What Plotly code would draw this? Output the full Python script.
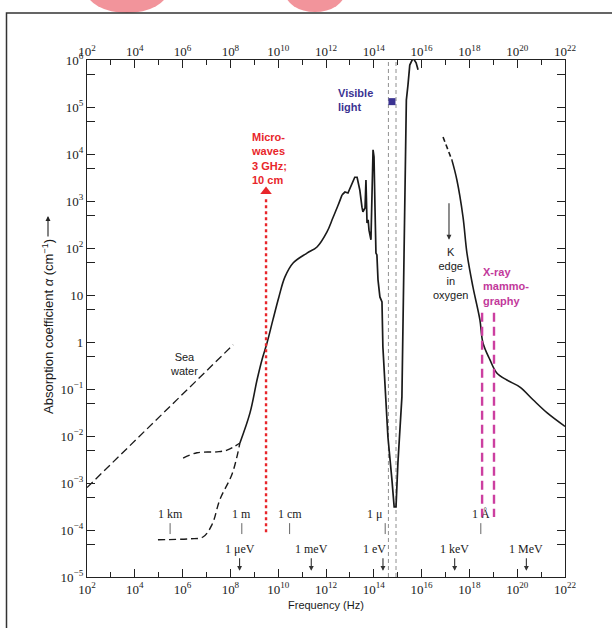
import numpy as np
import plotly.graph_objects as go

# ---------------- data (frequency in Hz, absorption coefficient in cm^-1) ----------------
smooth_f = [2.5e8, 6.6e8, 1.3e9, 2.1e9, 3.4e9, 6.0e9, 1.07e10, 1.9e10, 4.2e10, 1.6e11, 4.2e11,
            1.1e12, 1.95e12, 3.2e12, 4.7e12]
smooth_a = [7.1e-3, 3.1e-2, 0.155, 0.42, 0.95, 2.95, 9.1, 24, 48, 78, 105,
            220, 440, 810, 1350]

ir_uv_f = [4.7e12, 6.2e12, 8.3e12, 1.23e13, 1.6e13, 2.0e13, 2.6e13, 3.2e13, 3.5e13, 4.3e13,
           4.7e13, 5.2e13, 5.8e13, 6.3e13, 7.6e13, 9.3e13, 1.02e14, 1.12e14, 1.23e14, 1.35e14,
           1.5e14, 1.8e14, 2.2e14, 2.4e14, 2.95e14, 3.9e14, 5.75e14, 6.3e14, 7.1e14, 8.5e14,
           1.02e15, 1.5e15, 1.66e15, 1.8e15, 2.0e15, 2.1e15, 2.3e15, 2.7e15, 3.2e15, 4.4e15,
           5.9e15, 7.1e15]
ir_uv_a = [1350, 1550, 1480, 2400, 3200, 3200, 1700, 740, 590, 710,
           2800, 340, 400, 240, 150, 12300, 8700, 740, 78, 71,
           21, 9.1, 7.1, 0.78, 0.11, 9.5e-3, 1.15e-3, 5e-4, 3.1e-4, 3.1e-4,
           2.7e-3, 6.8e-2, 1.8, 48, 1050, 3.2e4, 1.4e5, 3.0e5, 7.8e5, 1.1e6,
           8.7e5, 6.2e5]

upper_dash_f = [1.05e6, 4.0e6, 2.75e7, 7.2e7, 2.5e8]
upper_dash_a = [3.4e-3, 4.4e-3, 4.6e-3, 5.0e-3, 7.1e-3]

lower_dash_f = [9.3e4, 2.0e6, 7.1e6, 1.7e7, 3.6e7, 1.2e8, 2.5e8]
lower_dash_a = [6.2e-5, 6.5e-5, 7.1e-5, 1.3e-4, 4.4e-4, 1.6e-3, 7.1e-3]

sea_f = [1e2, 1.3e8]
sea_a = [8e-4, 0.87]

xray_dash_f = [7.9e16, 1.86e17]
xray_dash_a = [2.3e4, 7.4e3]
xray_f = [1.86e17, 3.0e17, 5.4e17, 7.9e17, 1.4e18, 2.75e18, 3.7e18, 7.2e18, 1.4e19, 3.7e19,
          1.3e20, 4.6e20, 1.8e21, 1e22]
xray_a = [7.4e3, 2.8e3, 460, 78, 15, 2.95, 0.95, 0.42, 0.22, 0.155,
          0.11, 0.059, 0.031, 0.016]

visible_edges_f = [4.1e14, 8.5e14]
visible_f, visible_a = 5.75e14, 1.3e5
microwave_f = 3.1e9
microwave_a = [9e-5, 1.25e3]
mammo_f = [3.4e18, 1.07e19]
mammo_a = [4.2, 1.9e-4]
kedge_f, kedge_a = 1.4e17, 150

wave_labels = ["1 km", "1 m", "1 cm", "1 \u03bc", "1 \u00c5"]
wave_f = [3e5, 3e8, 3e10, 3e14, 3e18]
energy_labels = ["1 \u03bceV", "1 meV", "1 eV", "1 keV", "1 MeV"]
energy_f = [2.42e8, 2.42e11, 2.42e14, 2.42e17, 2.42e20]

x_major = [1e2, 1e4, 1e6, 1e8, 1e10, 1e12, 1e14, 1e16, 1e18, 1e20, 1e22]
x_major_text = ["10<sup>2</sup>", "10<sup>4</sup>", "10<sup>6</sup>", "10<sup>8</sup>",
                "10<sup>10</sup>", "10<sup>12</sup>", "10<sup>14</sup>", "10<sup>16</sup>",
                "10<sup>18</sup>", "10<sup>20</sup>", "10<sup>22</sup>"]
x_minor = [1e3, 1e5, 1e7, 1e9, 1e11, 1e13, 1e15, 1e17, 1e19, 1e21]
y_major = [1e6, 1e5, 1e4, 1e3, 1e2, 1e1, 1e0, 1e-1, 1e-2, 1e-3, 1e-4, 1e-5]
y_major_text = ["10<sup>6</sup>", "10<sup>5</sup>", "10<sup>4</sup>", "10<sup>3</sup>",
                "10<sup>2</sup>", "10", "1", "10<sup>\u22121</sup>", "10<sup>\u22122</sup>",
                "10<sup>\u22123</sup>", "10<sup>\u22124</sup>", "10<sup>\u22125</sup>"]
y_minor = [5e5, 5e4, 5e3, 5e2, 5e1, 5e0, 5e-1, 5e-2, 5e-3, 5e-4, 5e-5]

# ---------------- figure ----------------
W, H = 612, 628
L, R, T, B = 87, 565, 60, 577   # plot area in page pixels
SERIF = "Liberation Serif, Times New Roman, serif"
SANS = "Liberation Sans, Arial, sans-serif"
INK = "#1a1a1a"

def px(x):
    return (x - L) / (R - L)

def py(y):
    return (B - y) / (B - T)

fig = go.Figure()

def line(xs, ys, color=INK, width=1.6, dash="solid", shape="linear", xaxis="x"):
    fig.add_trace(go.Scatter(x=xs, y=ys, mode="lines", xaxis=xaxis,
                             line=dict(color=color, width=width, dash=dash, shape=shape),
                             hoverinfo="skip", showlegend=False))

# visible light boundaries
for f in visible_edges_f:
    line([f, f], [1e-5, 1e6], color="#9a9a9a", width=1.1, dash="4px,3px")

line(sea_f, sea_a, dash="8px,4px", width=1.3)
line(upper_dash_f, upper_dash_a, dash="7px,4px", width=1.4, shape="spline")
line(lower_dash_f, lower_dash_a, dash="7px,4px", width=1.4, shape="spline")
line(smooth_f, smooth_a, shape="spline")
line(ir_uv_f, ir_uv_a, width=1.7)
line(xray_dash_f, xray_dash_a, dash="5px,3px", width=1.6)
line(xray_f, xray_a, shape="spline")

# microwave marker
line([microwave_f, microwave_f], microwave_a, color="#e8262b", width=2.4, dash="dot")
fig.add_trace(go.Scatter(x=[microwave_f], y=[1.6e3], mode="markers",
                         marker=dict(symbol="triangle-up", size=10, color="#e8262b"),
                         hoverinfo="skip", showlegend=False))
# x-ray mammography
for f in mammo_f:
    line([f, f], mammo_a, color="#cc3fa0", width=2.4, dash="9px,5px")
# visible marker
fig.add_trace(go.Scatter(x=[visible_f], y=[visible_a], mode="markers",
                         marker=dict(symbol="square", size=7, color="#3b3392"),
                         hoverinfo="skip", showlegend=False))
# wavelength tick segments
for f in wave_f:
    line([f, f], [1.4e-4, 8.2e-5], color="#666666", width=1.0)

# dummy trace for the top axis
fig.add_trace(go.Scatter(x=[1e2, 1e22], y=[1e-5, 1e-5], xaxis="x2", mode="markers",
                         marker=dict(opacity=0), hoverinfo="skip", showlegend=False))

ann = []
def text(xv, yv, t, size=11, color=INK, family=SANS, xanchor="center", bold=False, align="center"):
    if bold:
        t = "<b>" + t + "</b>"
    ann.append(dict(x=np.log10(xv), y=np.log10(yv), xref="x", yref="y", text=t,
                    showarrow=False, xanchor=xanchor, yanchor="middle", align=align,
                    font=dict(size=size, color=color, family=family)))

text(1.15e6, 0.34, "Sea<br>water", size=11)
text(6.0e8, 8.0e3, "Micro-<br>waves<br>3 GHz;<br>10 cm", color="#e8262b", xanchor="left",
     bold=True, align="left", size=11)
text(2.6e12, 1.4e5, "Visible<br>light", color="#3b3392", xanchor="left", bold=True,
     align="left", size=11)
text(1.55e17, 28, "K<br>edge<br>in<br>oxygen", size=11)
text(3.1e18, 15, "X-ray<br>mammo-<br>graphy", color="#c2399b", xanchor="left", bold=True,
     align="left", size=11)

for lab, f in zip(wave_labels, wave_f):
    if lab.startswith("1 \u03bc"):
        ann.append(dict(x=np.log10(f), y=np.log10(2.2e-4), xref="x", yref="y", text=lab,
                        showarrow=False, xanchor="right", xshift=-1,
                        font=dict(size=12, color=INK, family=SERIF)))
    else:
        text(f, 2.2e-4, lab, size=12, family=SERIF)

for lab, f in zip(energy_labels, energy_f):
    shift = -8 if lab == "1 eV" else 0
    ann.append(dict(x=np.log10(f), y=np.log10(4.0e-5), xref="x", yref="y", text=lab,
                    showarrow=False, xshift=shift,
                    font=dict(size=12, color=INK, family=SERIF)))
    ann.append(dict(x=np.log10(f), y=np.log10(1.35e-5), xref="x", yref="y", text="",
                    showarrow=True, ax=0, ay=-14, arrowhead=2, arrowsize=0.9,
                    arrowwidth=1.1, arrowcolor="#333333"))

# K edge arrow
ann.append(dict(x=np.log10(kedge_f), y=np.log10(kedge_a), xref="x", yref="y", text="",
                showarrow=True, ax=0, ay=-38, arrowhead=2, arrowsize=0.9, arrowwidth=1.1,
                arrowcolor="#333333"))

# axis titles
ann.append(dict(x=px(326), y=py(605), xref="paper", yref="paper", text="Frequency (Hz)",
                xanchor="center", yanchor="middle",
                showarrow=False, font=dict(size=11, color=INK, family=SANS)))
ann.append(dict(x=px(48), y=py(327), xref="paper", yref="paper", textangle=-90,
                xanchor="center", yanchor="middle",
                text="Absorption coefficient <i>\u03b1</i> (cm<sup>\u22121</sup>)",
                showarrow=False, font=dict(size=13, color=INK, family=SANS)))
ann.append(dict(x=px(48), y=py(216), xref="paper", yref="paper", text="", showarrow=True,
                ax=0, ay=22, arrowhead=2, arrowsize=0.9, arrowwidth=1.1, arrowcolor="#222222"))

shapes = [
    dict(type="circle", xref="paper", yref="paper", x0=px(86), x1=px(168), y0=py(-33),
         y1=py(13), fillcolor="rgba(238,112,122,0.75)", line=dict(width=0), layer="above"),
    dict(type="circle", xref="paper", yref="paper", x0=px(285), x1=px(345), y0=py(-28),
         y1=py(12), fillcolor="rgba(238,112,122,0.75)", line=dict(width=0), layer="above"),
    dict(type="rect", xref="paper", yref="paper", x0=px(6.5), x1=px(700), y0=py(13),
         y1=py(700), line=dict(color="#333333", width=1.5), fillcolor="rgba(0,0,0,0)",
         layer="above"),
]

axis_common = dict(type="log", showgrid=False, zeroline=False, showline=True,
                   linecolor="#222222", linewidth=1.3, ticks="inside", tickcolor="#222222",
                   tickwidth=1.1, mirror="allticks",
                   tickfont=dict(family=SERIF, size=13, color=INK))

fig.update_layout(
    width=W, height=H,
    margin=dict(l=L, r=W - R, t=T, b=H - B, pad=0),
    paper_bgcolor="white", plot_bgcolor="white",
    showlegend=False,
    xaxis=dict(range=[2, 22], tickmode="array", tickvals=x_major, ticktext=x_major_text,
               ticklen=8,
               minor=dict(tickmode="array", tickvals=x_minor, ticks="inside", ticklen=5,
                          tickcolor="#222222", tickwidth=1.1),
               **axis_common),
    xaxis2=dict(type="log", range=[2, 22], overlaying="x", side="top", tickmode="array",
                tickvals=x_major, ticktext=x_major_text, ticks="", showline=False,
                showgrid=False, zeroline=False,
                tickfont=dict(family=SERIF, size=13, color=INK)),
    yaxis=dict(range=[-5, 6], tickmode="array", tickvals=y_major, ticktext=y_major_text,
               ticklen=8,
               minor=dict(tickmode="array", tickvals=y_minor, ticks="inside", ticklen=5,
                          tickcolor="#222222", tickwidth=1.1),
               **axis_common),
    annotations=ann,
    shapes=shapes,
)

fig.write_html("out.html", config={"displayModeBar": False},
               post_script="document.body.style.margin='0px';")
